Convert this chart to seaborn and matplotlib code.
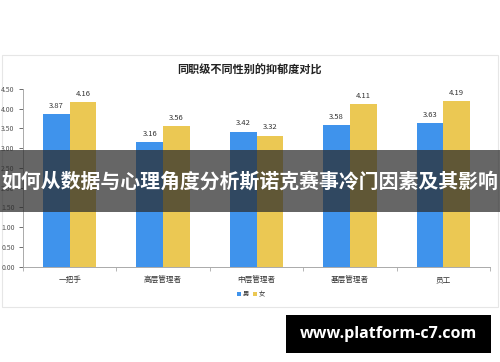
import pandas as pd
import seaborn as sns
import matplotlib.pyplot as plt
from matplotlib.patches import Rectangle
from matplotlib.ticker import FormatStrFormatter, FixedLocator

# data
levels = ["一把手", "高层管理者", "中层管理者", "基层管理者", "员工"]
male = [3.87, 3.16, 3.42, 3.58, 3.63]
female = [4.16, 3.56, 3.32, 4.11, 4.19]
genders = ["男", "女"]

sns.set_theme(style="white")
plt.rcParams['font.family'] = ['Noto Sans CJK SC', 'DejaVu Sans']

df = pd.DataFrame({
    "level": levels * 2,
    "gender": [genders[0]] * len(levels) + [genders[1]] * len(levels),
    "score": male + female,
})

W, H = 500, 362
fig = plt.figure(figsize=(W / 100, H / 100), dpi=100)
fig.patch.set_facecolor("white")

# light panel frame around the chart
fig.patches.append(Rectangle((2 / W, 1 - 307 / H), 496 / W, 252 / H, transform=fig.transFigure,
                             facecolor="white", edgecolor="#e6e6e6", linewidth=0.8, zorder=-5))

ax = fig.add_axes([23 / W, 1 - 266.5 / H, 467 / W, (266.5 - 89) / H])
ax.set_facecolor("none")
sns.barplot(data=df, x="level", y="score", hue="gender", order=levels, hue_order=genders,
            palette=["#3f93ec", "#ebc853"], width=0.57, gap=0, saturation=1, linewidth=0,
            ax=ax, legend=False)

for cont in ax.containers:
    ax.bar_label(cont, fmt="%.2f", padding=3, fontsize=5.5, color="#333333")

ax.set_ylim(0, 4.5)
ax.set_xlim(-0.5, len(levels) - 0.5)
ax.set_yticks([i * 0.5 for i in range(10)])
ax.yaxis.set_major_formatter(FormatStrFormatter("%.2f"))
ax.tick_params(axis="y", labelsize=5, colors="#555555", length=3, width=0.6, pad=3, left=True)
ax.tick_params(axis="x", labelsize=5.5, colors="#333333", length=0, pad=7)
ax.xaxis.set_minor_locator(FixedLocator([i + 0.5 for i in range(-1, len(levels))]))
ax.tick_params(axis="x", which="minor", length=3, width=0.6, color="#aaaaaa", bottom=True)
ax.set_xlabel("")
ax.set_ylabel("")
for s in ["top", "right"]:
    ax.spines[s].set_visible(False)
for s in ["left", "bottom"]:
    ax.spines[s].set_color("#aaaaaa")
    ax.spines[s].set_linewidth(0.7)

fig.text(249 / W, 1 - 70 / H, "同职级不同性别的抑郁度对比", ha="center", va="center",
         fontsize=8, fontweight="bold", color="#222222")

# legend
fig.patches.append(Rectangle((237 / W, 1 - 296 / H), 4 / W, 4 / H, transform=fig.transFigure,
                             facecolor="#3f93ec", edgecolor="none"))
fig.text(243 / W, 1 - 294 / H, "男", ha="left", va="center", fontsize=4.5, color="#333333")
fig.patches.append(Rectangle((253 / W, 1 - 296 / H), 4 / W, 4 / H, transform=fig.transFigure,
                             facecolor="#ebc853", edgecolor="none"))
fig.text(259 / W, 1 - 294 / H, "女", ha="left", va="center", fontsize=4.5, color="#333333")

# dark banner across the middle
fig.patches.append(Rectangle((0, 1 - 212 / H), 1, 62 / H, transform=fig.transFigure,
                             facecolor="#2b2b2b", alpha=0.72, edgecolor="none", zorder=10))
fig.text(0.5, 1 - 181 / H, "如何从数据与心理角度分析斯诺克赛事冷门因素及其影响", ha="center", va="center",
         fontsize=14.3, fontweight="bold", color="white", zorder=11)

# black url box bottom right
fig.patches.append(Rectangle((286 / W, 1 - 353 / H), 205 / W, 38 / H, transform=fig.transFigure,
                             facecolor="black", edgecolor="none", zorder=10))
fig.text(388.5 / W, 1 - 334 / H, "www.platform-c7.com", ha="center", va="center",
         fontsize=11.5, fontweight="bold", color="white", zorder=11, family="Open Sans")

fig.savefig("out.png", dpi=100)
